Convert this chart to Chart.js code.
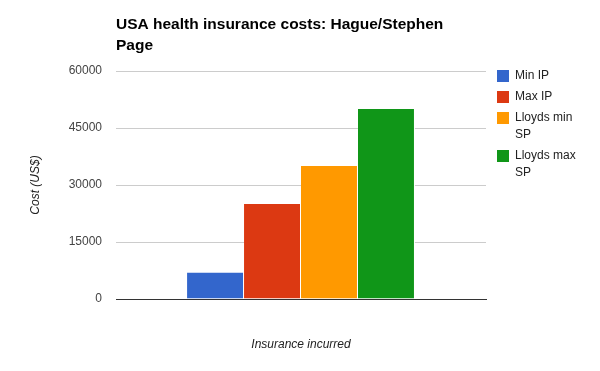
<!DOCTYPE html>
<html>
<head>
    <meta charset="utf-8" />
    <title>USA health insurance costs</title>
    <script src="https://cdn.jsdelivr.net/npm/chart.js@4/dist/chart.umd.min.js"></script>
    <style>
        html, body { margin: 0; padding: 0; background: #fff; }
        #wrap { width: 600px; height: 371px; }
    </style>
</head>
<body>
<div id="wrap"><canvas id="chart" width="600" height="371"></canvas></div>
<script>
    // data
    var categories = [''];
    var seriesNames = ['Min IP', 'Max IP', 'Lloyds min SP', 'Lloyds max SP'];
    var seriesValues = [7000, 25000, 35000, 50000];
    var yTicks = [0, 15000, 30000, 45000, 60000];
    var chartTitle = ['USA health insurance costs: Hague/Stephen', 'Page'];
    var xTitle = 'Insurance incurred';
    var yTitle = 'Cost (US$)';

    var colors = ['#3366cc', '#dc3912', '#ff9900', '#109618'];
    var fontFam = '"Liberation Sans", Arial, sans-serif';

    var datasets = [];
    for (var i = 0; i < seriesNames.length; i++) {
        datasets.push({
            label: seriesNames[i],
            data: [seriesValues[i]],
            backgroundColor: colors[i],
            borderColor: '#ffffff',
            borderWidth: {left: 0, right: 1, top: 0, bottom: 0},
            borderSkipped: false,
            categoryPercentage: 0.616,
            barPercentage: 1
        });
    }

    // title + wrapped legend drawn by hand (google-chart look)
    var decor = {
        id: 'decor',
        afterDraw: function (chart) {
            var c = chart.ctx;
            var area = chart.chartArea;
            c.save();
            c.fillStyle = '#000';
            c.font = 'bold 15.5px ' + fontFam;
            c.textBaseline = 'middle';
            c.textAlign = 'left';
            for (var i = 0; i < chartTitle.length; i++) {
                c.fillText(chartTitle[i], area.left, 25 + i * 21);
            }

            c.font = '12px ' + fontFam;
            var x = area.right + 11;
            var y = 70;
            var maxW = 75;
            chart.data.datasets.forEach(function (ds) {
                var words = ds.label.split(' ');
                var lines = [];
                var cur = '';
                words.forEach(function (w) {
                    var t = cur ? cur + ' ' + w : w;
                    if (cur && c.measureText(t).width > maxW) {
                        lines.push(cur);
                        cur = w;
                    } else {
                        cur = t;
                    }
                });
                lines.push(cur);
                c.fillStyle = ds.backgroundColor;
                c.fillRect(x, y, 12, 12);
                c.fillStyle = '#222';
                lines.forEach(function (ln, k) {
                    c.fillText(ln, x + 18, y + 6 + k * 17);
                });
                y += lines.length * 17 + 4;
            });
            c.restore();
        }
    };

    new Chart(document.getElementById('chart'), {
        type: 'bar',
        data: { labels: categories, datasets: datasets },
        plugins: [decor],
        options: {
            responsive: false,
            animation: false,
            layout: { padding: { left: 28, right: 114, top: 71, bottom: 19 } },
            plugins: {
                legend: { display: false },
                title: { display: false },
                tooltip: { enabled: false }
            },
            scales: {
                x: {
                    grid: { display: false },
                    border: { display: true, color: '#333', width: 1 },
                    ticks: { display: false },
                    title: {
                        display: true,
                        text: xTitle,
                        color: '#222',
                        padding: 0,
                        font: { family: fontFam, size: 12, style: 'italic' }
                    },
                    afterFit: function (s) { s.height = 53; }
                },
                y: {
                    min: 0,
                    max: 60000,
                    afterBuildTicks: function (s) {
                        s.ticks = yTicks.map(function (v) { return { value: v }; });
                    },
                    grid: {
                        color: function (ctx) { return ctx.tick && ctx.tick.value === 0 ? '#333' : '#cccccc'; },
                        drawTicks: false
                    },
                    border: { display: false },
                    ticks: {
                        color: '#444',
                        padding: 14,
                        font: { family: fontFam, size: 12 },
                        callback: function (v) { return String(v); }
                    },
                    title: {
                        display: true,
                        text: yTitle,
                        color: '#222',
                        padding: 0,
                        font: { family: fontFam, size: 12, style: 'italic' }
                    },
                    afterFit: function (s) { s.width = 88; }
                }
            }
        }
    });
</script>
</body>
</html>
